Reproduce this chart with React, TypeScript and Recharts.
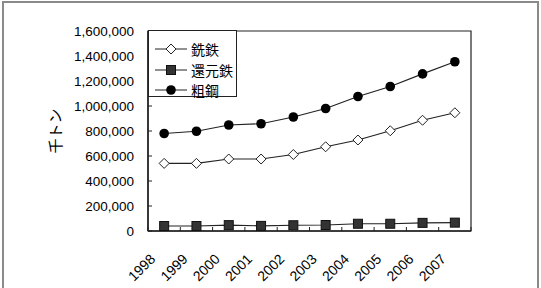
import React from 'react';
import {
  LineChart,
  Line,
  XAxis,
  YAxis,
  ReferenceArea,
} from 'recharts';

const years = ['1998', '1999', '2000', '2001', '2002', '2003', '2004', '2005', '2006', '2007'];
const pigIron = [541000, 541000, 576000, 576000, 612000, 674000, 728000, 802000, 886000, 946000];
const dri = [40000, 40000, 47000, 41000, 46000, 48000, 58000, 58000, 65000, 67000];
const crudeSteel = [780000, 798000, 848000, 858000, 912000, 980000, 1076000, 1156000, 1257000, 1354000];
const yTicks = [0, 200000, 400000, 600000, 800000, 1000000, 1200000, 1400000, 1600000];

const seriesNames = { pigIron: '銑鉄', dri: '還元鉄', crudeSteel: '粗鋼' };

const data = years.map((year, i) => ({
  year,
  pigIron: pigIron[i],
  dri: dri[i],
  crudeSteel: crudeSteel[i],
}));

const INK = '#222';
const FONT = '"Liberation Sans", Arial, "Noto Sans CJK JP", sans-serif';
const JP_FONT = '"Noto Sans CJK JP", "Liberation Sans", sans-serif';
const HALF_BAND = 323 / years.length / 2;

function Diamond({ cx, cy }: { cx: number; cy: number }) {
  return (
    <polygon
      points={`${cx},${cy - 5} ${cx + 5},${cy} ${cx},${cy + 5} ${cx - 5},${cy}`}
      fill="#fff"
      stroke={INK}
      strokeWidth={1}
    />
  );
}

function Square({ cx, cy }: { cx: number; cy: number }) {
  return <rect x={cx - 4.5} y={cy - 4.5} width={9} height={9} fill="#333" stroke="#111" strokeWidth={1} />;
}

function Dot({ cx, cy }: { cx: number; cy: number }) {
  return <circle cx={cx} cy={cy} r={4.8} fill="#000" />;
}

const markers: Record<string, (p: { cx: number; cy: number }) => React.ReactElement> = {
  pigIron: Diamond,
  dri: Square,
  crudeSteel: Dot,
};

function makeDot(kind: string) {
  const Marker = markers[kind];
  return (props: any) => {
    const { cx, cy, index } = props;
    if (cx == null || cy == null) return <g key={`${kind}-${index}`} />;
    return (
      <g key={`${kind}-${index}`}>
        <Marker cx={cx} cy={cy} />
      </g>
    );
  };
}

function YTick(props: any) {
  const { x, y, payload } = props;
  const axisX = x + 8;
  return (
    <g>
      <line x1={axisX} x2={axisX + 4} y1={y} y2={y} stroke={INK} />
      <text x={x - 6} y={y} dy={4.5} textAnchor="end" fontSize={13.5} fontFamily={FONT} fill="#000">
        {payload.value.toLocaleString('en-US')}
      </text>
    </g>
  );
}

function XTick(props: any) {
  const { x, y, payload, index } = props;
  const axisY = y;
  const tx = x - 8;
  const ty = axisY + 29;
  return (
    <g>
      <line x1={x - HALF_BAND} x2={x - HALF_BAND} y1={axisY} y2={axisY - 4} stroke={INK} />
      {index === years.length - 1 && (
        <line x1={x + HALF_BAND} x2={x + HALF_BAND} y1={axisY} y2={axisY - 4} stroke={INK} />
      )}
      <text
        x={tx}
        y={ty}
        textAnchor="end"
        fontSize={14}
        fontFamily={FONT}
        fill="#000"
        transform={`rotate(-45 ${tx} ${ty})`}
      >
        {payload.value}
      </text>
    </g>
  );
}

function LegendBox() {
  const items = ['pigIron', 'dri', 'crudeSteel'];
  return (
    <div
      style={{
        position: 'absolute',
        left: 148,
        top: 30,
        width: 87,
        height: 65,
        border: `1px solid ${INK}`,
        background: '#fff',
      }}
    >
      {items.map((k, i) => {
        const Marker = markers[k];
        return (
          <div key={k} style={{ display: 'flex', alignItems: 'center', height: 20.5, marginTop: i === 0 ? 8 : 0 }}>
            <svg width={38} height={14} style={{ display: 'block', marginLeft: 4 }}>
              <line x1={2} x2={34} y1={7} y2={7} stroke={INK} strokeWidth={1} />
              <Marker cx={18} cy={7} />
            </svg>
            <span style={{ fontFamily: JP_FONT, fontSize: 14, color: '#000', lineHeight: '14px' }}>
              {seriesNames[k as keyof typeof seriesNames]}
            </span>
          </div>
        );
      })}
    </div>
  );
}

function YLabel(props: any) {
  const { viewBox } = props;
  const cx = viewBox.x + 54;
  const cy = viewBox.y + viewBox.height / 2;
  return (
    <text
      x={cx}
      y={cy}
      textAnchor="middle"
      dominantBaseline="central"
      fontSize={15}
      fontFamily={JP_FONT}
      fill="#000"
      transform={`rotate(-90 ${cx} ${cy})`}
    >
      千トン
    </text>
  );
}

export default function App() {
  return (
    <div style={{ position: 'relative', width: 541, height: 288, background: '#fff', overflow: 'hidden' }}>
      <style>{`body{margin:0}`}</style>
      <div
        style={{
          position: 'absolute',
          left: 2,
          top: 1,
          width: 533,
          height: 300,
          border: '2px solid #8a8a8a',
        }}
      />
      <LineChart
        width={541}
        height={288}
        data={data}
        margin={{ top: 31, right: 70, left: 0, bottom: 0 }}
        style={{ position: 'absolute', left: 0, top: 0 }}
      >
        <XAxis
          dataKey="year"
          scale="band"
          height={57}
          axisLine={{ stroke: INK, strokeWidth: 1.5 }}
          tickLine={false}
          tickSize={0}
          tickMargin={0}
          interval={0}
          tick={<XTick />}
        />
        <YAxis
          width={148}
          domain={[0, 1600000]}
          ticks={yTicks}
          axisLine={{ stroke: INK, strokeWidth: 1.5 }}
          tickLine={false}
          tickSize={0}
          tickMargin={8}
          tick={<YTick />}
          label={<YLabel />}
        />
        <ReferenceArea y1={0} y2={1600000} fill="none" stroke={INK} strokeWidth={1.2} />
        <Line
          type="linear"
          dataKey="pigIron"
          stroke={INK}
          strokeWidth={1.2}
          dot={makeDot('pigIron')}
          isAnimationActive={false}
        />
        <Line
          type="linear"
          dataKey="dri"
          stroke={INK}
          strokeWidth={1.2}
          dot={makeDot('dri')}
          isAnimationActive={false}
        />
        <Line
          type="linear"
          dataKey="crudeSteel"
          stroke={INK}
          strokeWidth={1.2}
          dot={makeDot('crudeSteel')}
          isAnimationActive={false}
        />
      </LineChart>
      <LegendBox />
    </div>
  );
}
